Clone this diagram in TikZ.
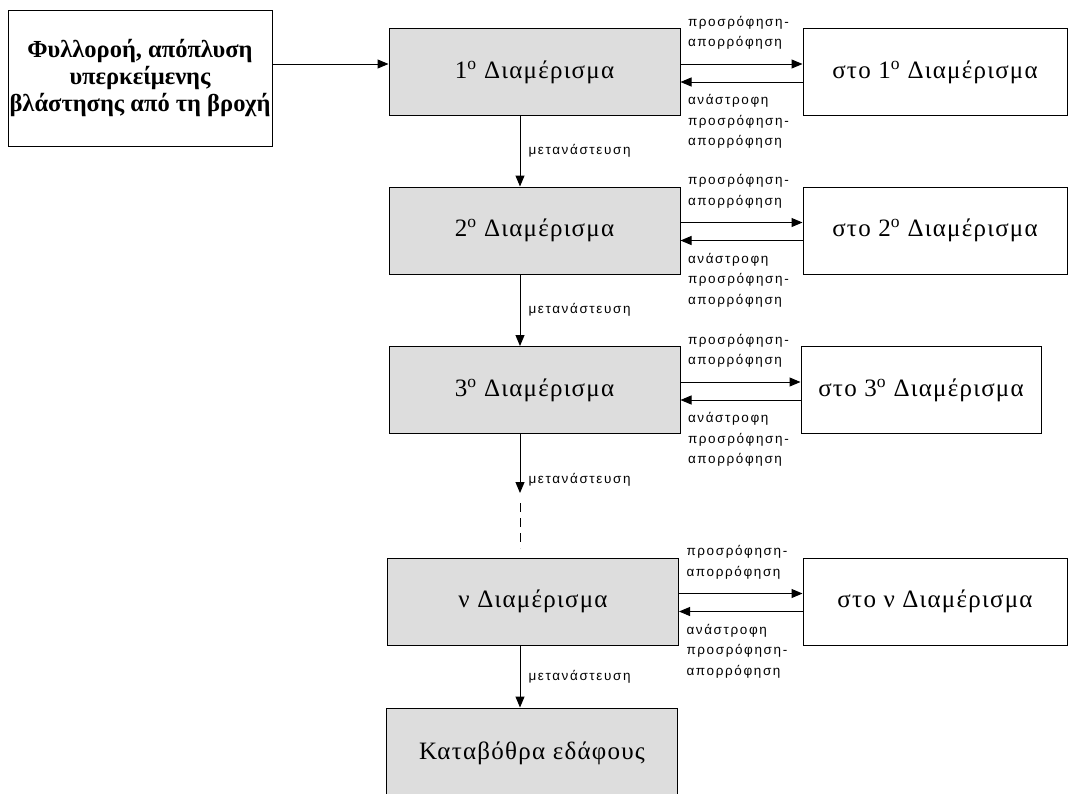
\documentclass[tikz,border=0pt]{standalone}
\usepackage{fontspec}
\setmainfont{Liberation Serif}
\newfontfamily\cellfont[LetterSpace=5]{Liberation Serif}
\newfontfamily\lblfont[LetterSpace=12]{Liberation Sans}
\usepackage{xcolor}
\usetikzlibrary{positioning, arrows.meta, calc}

\definecolor{cellgray}{RGB}{221,221,221}

\begin{document}
\begin{tikzpicture}[
        x=1pt, y=-1pt, line width=1pt,
        >={Triangle[length=11pt,width=9pt]}, % Arrowhead style
        cell/.style={rectangle, draw, fill=cellgray, minimum width=291pt, minimum height=87pt,
                     inner sep=0pt, font=\cellfont\fontsize{25}{30}\selectfont},
        store/.style={cell, fill=white, minimum width=264pt},
        lbl/.style={font=\lblfont\fontsize{13.5}{20.5}\selectfont, align=left, inner sep=2pt}
    ]
    \useasboundingbox (0,0) rectangle (1074,793);
    \clip (0,0) rectangle (1074,793);

    % ==========================================
    % Nodes Placement
    % ==========================================
    \node[cell, fill=white, minimum width=264pt, minimum height=136pt, align=center,
          font=\fontsize{24.5}{27}\selectfont\bfseries] (P) at (140,78)
          {Φυλλοροή, απόπλυση\\υπερκείμενης\\βλάστησης από τη βροχή};

    \node[cell] (D1) at (534.5,72)    {1\textsuperscript{ο} Διαμέρισμα};
    \node[cell] (D2) at (534.5,230.5) {2\textsuperscript{ο} Διαμέρισμα};
    \node[cell] (D3) at (534.5,390)   {3\textsuperscript{ο} Διαμέρισμα};
    \node[cell] (Dn) at (533,601.5)   {ν Διαμέρισμα};
    \node[cell, minimum height=90pt] (K) at (532,753) {Καταβόθρα εδάφους};

    \node[store] (S1) at (935,72)    {στο 1\textsuperscript{ο} Διαμέρισμα};
    \node[store] (S2) at (935,230.5) {στο 2\textsuperscript{ο} Διαμέρισμα};
    \node[store, minimum width=240pt] (S3) at (921,390) {στο 3\textsuperscript{ο} Διαμέρισμα};
    \node[store] (Sn) at (935,601.5) {στο ν Διαμέρισμα};

    \coordinate (gapA) at (520,493);
    \coordinate (gapB) at (520,548);

    % ==========================================
    % Edges
    % ==========================================

    % Input from the canopy
    \draw[->] ([yshift=8pt]D1.west -| P.east) -- ([yshift=8pt]D1.west);

    % Exchange with the stored part
    \draw[->] ([yshift=8pt]D1.east) -- node[lbl, pos=0, anchor=south west, xshift=5pt, yshift=12pt] {προσρόφηση-\\απορρόφηση} ([yshift=8pt]S1.west);
    \draw[->] ([yshift=-10pt]S1.west) -- node[lbl, pos=1, anchor=north west, xshift=5pt, yshift=-10pt] {ανάστροφη\\προσρόφηση-\\απορρόφηση} ([yshift=-10pt]D1.east);

    \draw[->] ([yshift=8pt]D2.east) -- node[lbl, pos=0, anchor=south west, xshift=5pt, yshift=12pt] {προσρόφηση-\\απορρόφηση} ([yshift=8pt]S2.west);
    \draw[->] ([yshift=-10pt]S2.west) -- node[lbl, pos=1, anchor=north west, xshift=5pt, yshift=-10pt] {ανάστροφη\\προσρόφηση-\\απορρόφηση} ([yshift=-10pt]D2.east);

    \draw[->] ([yshift=8pt]D3.east) -- node[lbl, pos=0, anchor=south west, xshift=5pt, yshift=12pt] {προσρόφηση-\\απορρόφηση} ([yshift=8pt]S3.west);
    \draw[->] ([yshift=-10pt]S3.west) -- node[lbl, pos=1, anchor=north west, xshift=5pt, yshift=-10pt] {ανάστροφη\\προσρόφηση-\\απορρόφηση} ([yshift=-10pt]D3.east);

    \draw[->] ([yshift=8pt]Dn.east) -- node[lbl, pos=0, anchor=south west, xshift=5pt, yshift=12pt] {προσρόφηση-\\απορρόφηση} ([yshift=8pt]Sn.west);
    \draw[->] ([yshift=-10pt]Sn.west) -- node[lbl, pos=1, anchor=north west, xshift=5pt, yshift=-10pt] {ανάστροφη\\προσρόφηση-\\απορρόφηση} ([yshift=-10pt]Dn.east);

    % Downward migration
    \draw[->] (D1.south -| gapA) -- node[lbl, right, xshift=6pt] {μετανάστευση} (D2.north -| gapA);
    \draw[->] (D2.south -| gapA) -- node[lbl, right, xshift=6pt] {μετανάστευση} (D3.north -| gapA);
    \draw[->] (D3.south -| gapA) -- node[lbl, right, xshift=6pt, pos=0.78] {μετανάστευση} (gapA);
    \draw[dash pattern=on 9pt off 6pt] ([yshift=-10pt]gapA) -- (gapB);
    \draw[->] (Dn.south -| gapA) -- node[lbl, right, xshift=6pt] {μετανάστευση} (K.north -| gapA);

    \end{tikzpicture}
\end{document}
